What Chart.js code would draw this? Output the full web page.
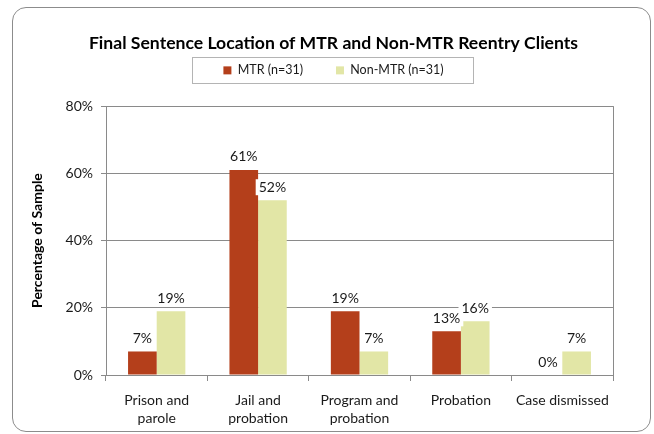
<!DOCTYPE html>
<html>
<head>
<meta charset="utf-8">
<script src="https://cdn.jsdelivr.net/npm/chart.js@4.4.1/dist/chart.umd.min.js"></script>
<style>
    body { margin: 0; background: #fff; }
    #wrap { position: relative; width: 654px; height: 434px; }
    #frame {
        position: absolute; left: 12px; top: 7px; width: 637px; height: 423px;
        border: 1px solid #8c8c8c; border-radius: 14px;
    }
    canvas { position: absolute; left: 0; top: 0; }
</style>
</head>
<body>
<div id="wrap">
    <div id="frame"></div>
    <canvas id="sentenceChart" width="654" height="434"></canvas>
</div>
<script>
// chart data
const categories = [['Prison and', 'parole'], ['Jail and', 'probation'], ['Program and', 'probation'], 'Probation', 'Case dismissed'];
const mtrValues = [7, 61, 19, 13, 0];
const nonMtrValues = [19, 52, 7, 16, 7];
const yTicks = [0, 20, 40, 60, 80];

const FONT = 'Lato, "Open Sans", sans-serif';
const LEGEND_SHIFT = 23;
const HEADER_SHIFT_X = 17;   // タイトルと凡例はキャンバス中央寄せ

// 凡例の位置と枠線、プロット枠、棒の上のラベル
const extrasPlugin = {
    id: 'extras',
    afterInit(chart) {
        const legend = chart.legend;
        const origFit = legend.fit;
        legend.fit = function () {
            origFit.call(this);
            this.height = 52;
        };
        const origDraw = legend.draw;
        legend.draw = function () {
            const c = this.ctx;
            c.save();
            c.translate(HEADER_SHIFT_X, -LEGEND_SHIFT);
            origDraw.call(this);
            c.restore();
        };
        const title = chart.titleBlock;
        const origTitleDraw = title.draw;
        title.draw = function () {
            const c = this.ctx;
            c.save();
            c.translate(HEADER_SHIFT_X, 0);
            origTitleDraw.call(this);
            c.restore();
        };
    },
    beforeDatasetsDraw(chart) {
        const ctx = chart.ctx;
        const a = chart.chartArea;
        ctx.save();
        ctx.strokeStyle = '#8a8a8a';
        ctx.lineWidth = 1;
        ctx.beginPath();
        ctx.moveTo(Math.round(a.right) + 0.5, a.top);
        ctx.lineTo(Math.round(a.right) + 0.5, a.bottom);
        ctx.stroke();
        ctx.restore();
    },
    afterDraw(chart) {
        const ctx = chart.ctx;
        // legend box
        const boxes = chart.legend.legendHitBoxes;
        if (boxes && boxes.length) {
            const left = Math.min(...boxes.map(b => b.left)) - 31 + HEADER_SHIFT_X;
            const right = Math.max(...boxes.map(b => b.left + b.width)) + 30 + HEADER_SHIFT_X;
            const mid = boxes[0].top + boxes[0].height / 2 - LEGEND_SHIFT;
            ctx.save();
            ctx.strokeStyle = '#b4b4b4';
            ctx.lineWidth = 1;
            ctx.strokeRect(Math.round(left) + 0.5, Math.round(mid - 13) + 0.5, Math.round(right - left), 26);
            ctx.restore();
        }
        // value labels
        ctx.save();
        ctx.font = '14px ' + FONT;
        ctx.textAlign = 'center';
        ctx.textBaseline = 'middle';
        chart.data.datasets.forEach((ds, i) => {
            chart.getDatasetMeta(i).data.forEach((bar, j) => {
                const txt = ds.data[j] + '%';
                const w = ctx.measureText(txt).width;
                const y = bar.y - 13;
                ctx.fillStyle = '#fff';
                ctx.fillRect(bar.x - w / 2 - 3, y - 8, w + 6, 16);
                ctx.fillStyle = '#1a1a1a';
                ctx.fillText(txt, bar.x, y);
            });
        });
        ctx.restore();
    }
};

const ctx = document.getElementById('sentenceChart').getContext('2d');
new Chart(ctx, {
    type: 'bar',
    data: {
        labels: categories,
        datasets: [
            { label: 'MTR (n=31)', data: mtrValues, backgroundColor: '#b43f1b', categoryPercentage: 0.565, barPercentage: 1 },
            { label: 'Non-MTR (n=31)', data: nonMtrValues, backgroundColor: '#e2e6a6', categoryPercentage: 0.565, barPercentage: 1 }
        ]
    },
    options: {
        responsive: false,
        animation: false,
        layout: { padding: { left: 20, right: 41, top: 0, bottom: 6 } },
        plugins: {
            title: {
                display: true,
                text: 'Final Sentence Location of MTR and Non-MTR Reentry Clients',
                color: '#000',
                font: { family: FONT, size: 17.6, weight: 'bold' },
                padding: { top: 33, bottom: 0 }
            },
            legend: {
                labels: {
                    color: '#1a1a1a',
                    font: { family: FONT, size: 12.5 },
                    boxWidth: 8,
                    boxHeight: 8,
                    padding: 33
                }
            },
            tooltip: { enabled: false }
        },
        scales: {
            x: {
                afterFit(scale) {
                    scale.height = 53;
                },
                grid: { drawOnChartArea: false, drawTicks: true, tickLength: 6, color: '#8a8a8a', offset: true },
                border: { color: '#8a8a8a' },
                ticks: { color: '#1a1a1a', font: { family: FONT, size: 14, lineHeight: 1.32 }, maxRotation: 0, padding: 10 }
            },
            y: {
                min: 0,
                max: 80,
                afterBuildTicks(scale) {
                    scale.ticks = yTicks.map(v => ({ value: v }));
                },
                afterFit(scale) {
                    scale.width = 86;
                },
                grid: { color: '#8a8a8a', tickLength: 5 },
                border: { color: '#8a8a8a' },
                ticks: {
                    color: '#1a1a1a',
                    font: { family: FONT, size: 14 },
                    padding: 8,
                    callback: v => v + '%'
                },
                title: {
                    display: true,
                    text: 'Percentage of Sample',
                    color: '#000',
                    font: { family: FONT, size: 14, weight: 'bold' },
                    padding: { top: 9, bottom: 6 }
                }
            }
        }
    },
    plugins: [extrasPlugin]
});
</script>
</body>
</html>
